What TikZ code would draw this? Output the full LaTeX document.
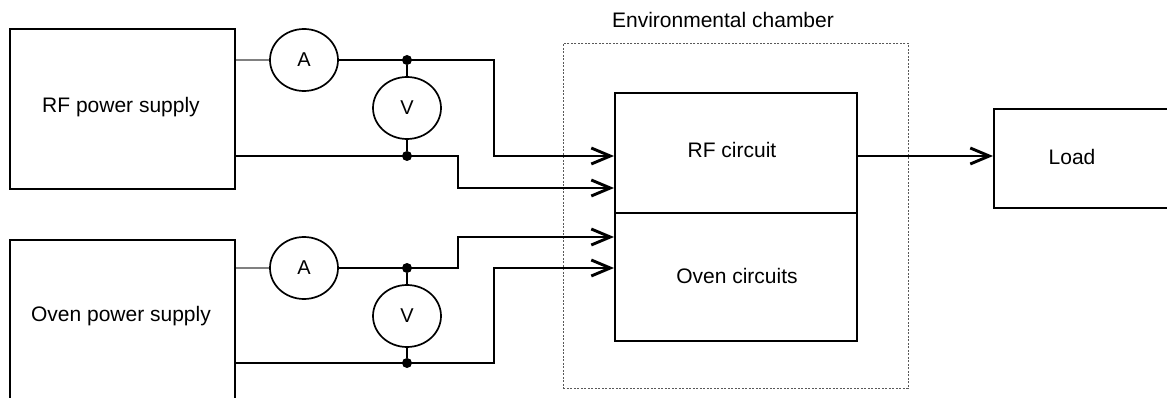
\documentclass[tikz,border=0pt]{standalone}
\usepackage{fontspec}
\setmainfont{Liberation Sans}
\usetikzlibrary{arrows.meta,shapes.geometric}
\begin{document}
\begin{tikzpicture}[x=1pt,y=-1pt,
  box/.style={draw, line width=2pt, inner sep=0pt},
  meter/.style={draw, ellipse, line width=1.7pt, minimum width=68pt, minimum height=62pt, inner sep=0pt, font=\fontsize{20}{24}\selectfont},
  wire/.style={line width=2.9pt},
  feed/.style={wire, -{Straight Barb[length=19pt,width=16pt]}},
  lead/.style={line width=1.3pt, gray},
  stub/.style={line width=1.3pt},
  jdot/.style={circle, fill, inner sep=0pt, minimum size=10pt},
  lbl/.style={font=\fontsize{21}{25}\selectfont, inner sep=0pt}]
\useasboundingbox (0,0) rectangle (1167,398);
\clip (0,0) rectangle (1167,398);
% supplies
\node[box, minimum width=225pt, minimum height=160pt, anchor=north west] (rfps) at (9,28) {};
\node[lbl] (rfpslbl) at (121,107) {RF power supply};
\node[box, minimum width=225pt, minimum height=200pt, anchor=north west] (ovps) at (9,239) {};
\node[lbl] (ovpslbl) at (121,316) {Oven power supply};
% meters
\node[meter] (rfA) at (304,60) {A};
\node[meter] (rfV) at (407,108) {V};
\node[jdot] (rfJ1) at (407,60) {};
\node[jdot] (rfJ2) at (407,156) {};
\node[meter] (ovA) at (304,268) {A};
\node[meter] (ovV) at (407,316) {V};
\node[jdot] (ovJ1) at (407,268) {};
\node[jdot] (ovJ2) at (407,363) {};
% chamber
\node[draw, line width=0.9pt, gray!70!black, dash pattern=on 2pt off 1.5pt, minimum width=345pt, minimum height=345pt, inner sep=0pt, anchor=north west] (chamber) at (563,43) {};
\node[lbl] (chamberlbl) at (723,20) {Environmental chamber};
\node[box, minimum width=242pt, minimum height=248pt, anchor=north west] (circ) at (614,92) {};
\coordinate (divL) at (614,213);
\coordinate (divR) at (856,213);
\draw[line width=1.4pt] (divL) -- (divR);
\node[lbl] (rfc) at (732,150) {RF circuit};
\node[lbl] (ovc) at (737,276) {Oven circuits};
% load
\node[box, minimum width=230pt, minimum height=99pt, anchor=north west] (load) at (993,108) {};
\node[lbl] (loadlbl) at (1072,157) {Load};
% entry points and bends
\coordinate (in1) at (614,156);
\coordinate (in2) at (614,188);
\coordinate (in3) at (614,237);
\coordinate (in4) at (614,268);
\coordinate (s1) at (494,60);
\coordinate (s2) at (458,156);
\coordinate (s3) at (458,268);
\coordinate (s4) at (494,363);
% RF wiring
\draw[lead] (rfps.east |- rfA) -- (rfA.west);
\draw[feed] (rfA.east) -- (rfJ1.center) -- (s1) |- (in1);
\draw[feed] (rfps.east |- rfJ2) -- (rfJ2.center) -- (s2) |- (in2);
\draw[stub] (rfJ1) -- (rfV.north);
\draw[stub] (rfV.south) -- (rfJ2);
% Oven wiring
\draw[lead] (ovps.east |- ovA) -- (ovA.west);
\draw[feed] (ovA.east) -- (ovJ1.center) -- (s3) |- (in3);
\draw[feed] (ovps.east |- ovJ2) -- (ovJ2.center) -- (s4) |- (in4);
\draw[stub] (ovJ1) -- (ovV.north);
\draw[stub] (ovV.south) -- (ovJ2);
% output
\draw[feed] (circ.east |- in1) -- (load.west |- in1);
\end{tikzpicture}
\end{document}
